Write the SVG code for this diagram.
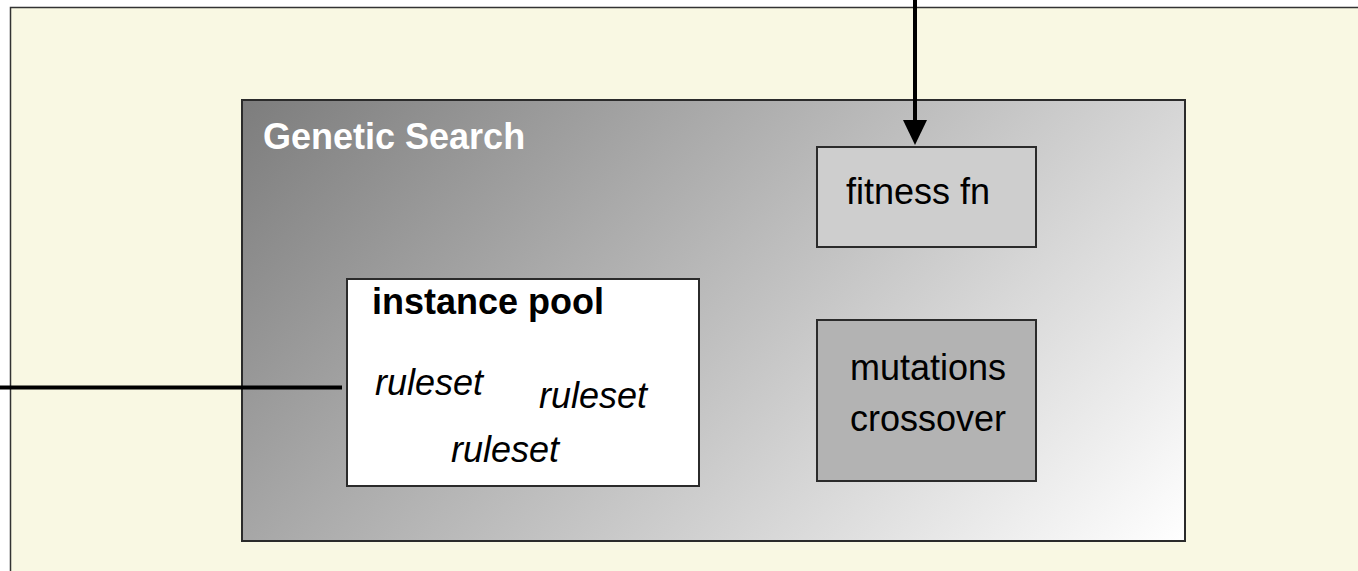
<svg xmlns="http://www.w3.org/2000/svg" width="1358" height="571" viewBox="0 0 1358 571">
  <defs>
    <linearGradient id="gsGrad" gradientUnits="userSpaceOnUse" x1="242" y1="100" x2="934" y2="792">
      <stop offset="0" stop-color="#7d7d7d"/>
      <stop offset="1" stop-color="#ffffff"/>
    </linearGradient>
  </defs>
  <style>
    .box { stroke: #2b2b2b; stroke-width: 2; }
    .t { font-family: "Liberation Sans", Arial, sans-serif; font-size: 36px; }
    .b { font-weight: bold; }
    .i { font-style: italic; }
    .conn { stroke: #000; stroke-width: 4; fill: none; }
  </style>
  <rect width="1358" height="571" fill="#ffffff"/>
  <g id="frame">
    <rect x="10.5" y="7.5" width="1400" height="620" fill="#f9f8e3" stroke="#333" stroke-width="1.5"/>
  </g>
  <g id="genetic-search">
    <rect class="box" x="242" y="100" width="943" height="441" fill="url(#gsGrad)"/>
    <text class="t b" x="263" y="149" fill="#ffffff">Genetic Search</text>
  </g>
  <g id="fitness-fn">
    <rect class="box" x="817" y="147" width="219" height="100" fill="#cecece"/>
    <text class="t" x="846" y="204" fill="#000">fitness fn</text>
  </g>
  <g id="mutations-crossover">
    <rect class="box" x="817" y="320" width="219" height="161" fill="#b3b3b3"/>
    <text class="t" x="928" y="380" text-anchor="middle" fill="#000">mutations</text>
    <text class="t" x="928" y="431" text-anchor="middle" fill="#000">crossover</text>
  </g>
  <g id="instance-pool">
    <rect class="box" x="347" y="279" width="352" height="207" fill="#ffffff"/>
    <text class="t b" x="372" y="314" fill="#000">instance pool</text>
    <text class="t i" x="375" y="395" fill="#000">ruleset</text>
    <text class="t i" x="539" y="408" fill="#000">ruleset</text>
    <text class="t i" x="451" y="462" fill="#000">ruleset</text>
  </g>
  <g id="connectors">
    <line class="conn" x1="915" y1="-5" x2="915" y2="122"/>
    <polygon points="903,120 927,120 915,145" fill="#000"/>
    <line class="conn" x1="0" y1="387.5" x2="342" y2="387.5"/>
  </g>
</svg>
